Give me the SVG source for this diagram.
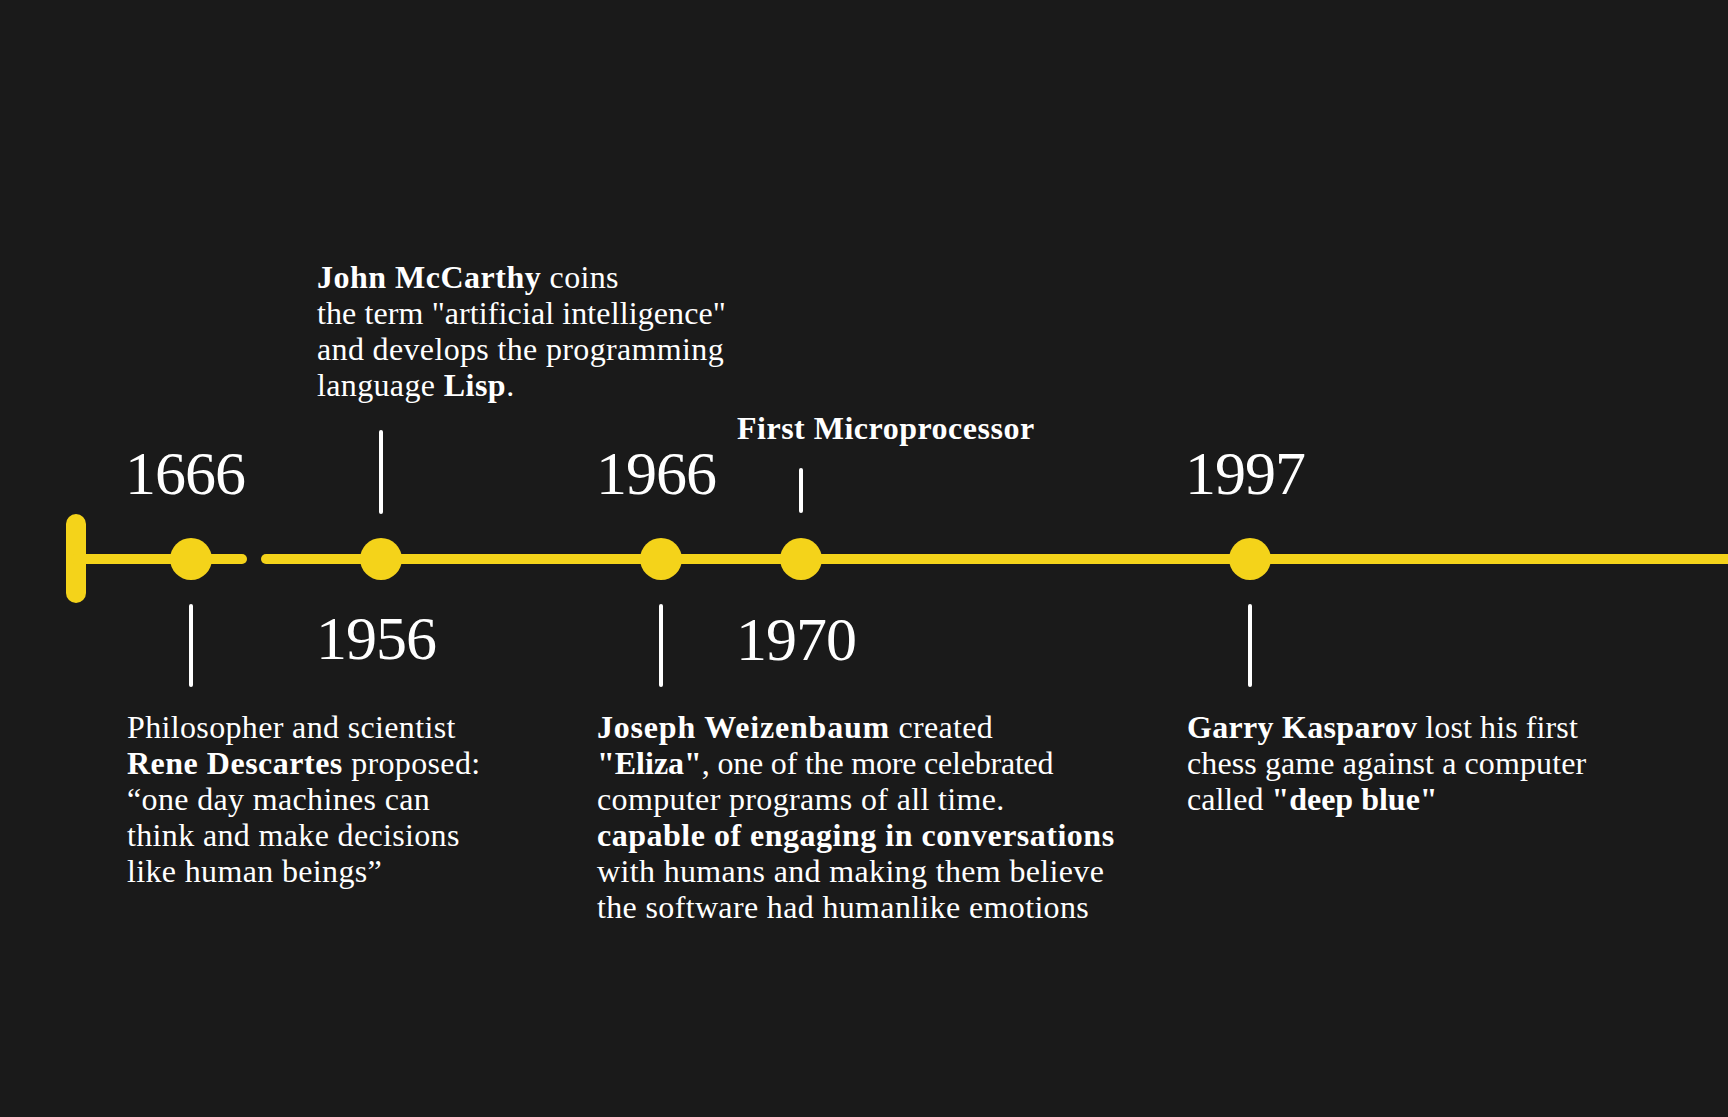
<svg xmlns="http://www.w3.org/2000/svg" width="1728" height="1117" viewBox="0 0 1728 1117">
  <style>
    .axis { stroke: #f4d31a; stroke-width: 10; stroke-linecap: round; fill: none; }
    .cap { stroke: #f4d31a; stroke-width: 20; stroke-linecap: round; }
    .dot { fill: #f4d31a; }
    .tick { stroke: #ffffff; stroke-width: 4; stroke-linecap: round; }
    .year { font-family: "Liberation Serif", "Times New Roman", serif; font-size: 62px; letter-spacing: -1px; fill: #ffffff; }
    .body { font-family: "Liberation Serif", "Times New Roman", serif; font-size: 32px; letter-spacing: 0.35px; fill: #ffffff; }
    .b { font-weight: bold; letter-spacing: 0.5px; }
    .tight { letter-spacing: 0.1px; }
    .tighter { letter-spacing: -0.2px; }
    .title { font-family: "Liberation Serif", "Times New Roman", serif; font-size: 32px; font-weight: bold; letter-spacing: 0.5px; fill: #ffffff; }
  </style>
  <rect width="1728" height="1117" fill="#1a1a1a"/>

  <!-- timeline axis and leader ticks -->
  <g id="connectors">
    <line class="cap" x1="76" y1="524" x2="76" y2="593"/>
    <line class="axis" x1="76" y1="559" x2="242" y2="559"/>
    <line class="axis" x1="266" y1="559" x2="1740" y2="559"/>
    <line class="tick" x1="191" y1="606" x2="191" y2="685"/>
    <line class="tick" x1="381" y1="432" x2="381" y2="512"/>
    <line class="tick" x1="661" y1="606" x2="661" y2="685"/>
    <line class="tick" x1="801" y1="470" x2="801" y2="511"/>
    <line class="tick" x1="1250" y1="606" x2="1250" y2="685"/>
  </g>

  <g id="event-1666">
    <circle class="dot" cx="191" cy="559" r="21"/>
    <text class="year" x="125" y="494">1666</text>
    <text class="body" x="127" y="738">Philosopher and scientist</text>
    <text class="body" x="127" y="774"><tspan class="b">Rene Descartes</tspan> proposed:</text>
    <text class="body" x="127" y="810">“one day machines can</text>
    <text class="body" x="127" y="846">think and make decisions</text>
    <text class="body" x="127" y="882">like human beings”</text>
  </g>

  <g id="event-1956">
    <circle class="dot" cx="381" cy="559" r="21"/>
    <text class="year" x="316" y="659">1956</text>
    <text class="body" x="317" y="288"><tspan class="b">John McCarthy</tspan> coins</text>
    <text class="body tight" x="317" y="324">the term "artificial intelligence"</text>
    <text class="body" x="317" y="360">and develops the programming</text>
    <text class="body" x="317" y="396">language <tspan class="b">Lisp</tspan>.</text>
  </g>

  <g id="event-1966">
    <circle class="dot" cx="661" cy="559" r="21"/>
    <text class="year" x="596" y="494">1966</text>
    <text class="body" x="597" y="738"><tspan class="b" style="letter-spacing:0.8px">Joseph Weizenbaum</tspan> created</text>
    <text class="body tighter" x="597" y="774"><tspan class="b" style="letter-spacing:0">"Eliza"</tspan>, one of the more celebrated</text>
    <text class="body" x="597" y="810">computer programs of all time.</text>
    <text class="body" x="597" y="846"><tspan class="b">capable of engaging in conversations</tspan></text>
    <text class="body" x="597" y="882">with humans and making them believe</text>
    <text class="body" x="597" y="918">the software had humanlike emotions</text>
  </g>

  <g id="event-1970">
    <circle class="dot" cx="801" cy="559" r="21"/>
    <text class="title" x="737" y="439">First Microprocessor</text>
    <text class="year" x="736" y="660">1970</text>
  </g>

  <g id="event-1997">
    <circle class="dot" cx="1250" cy="559" r="21"/>
    <text class="year" x="1185" y="494">1997</text>
    <text class="body tight" x="1187" y="738"><tspan class="b" style="letter-spacing:0.3px">Garry Kasparov</tspan> lost his first</text>
    <text class="body tight" x="1187" y="774">chess game against a computer</text>
    <text class="body" x="1187" y="810" style="letter-spacing:0">called <tspan class="b" style="letter-spacing:0">"deep blue"</tspan></text>
  </g>
</svg>
